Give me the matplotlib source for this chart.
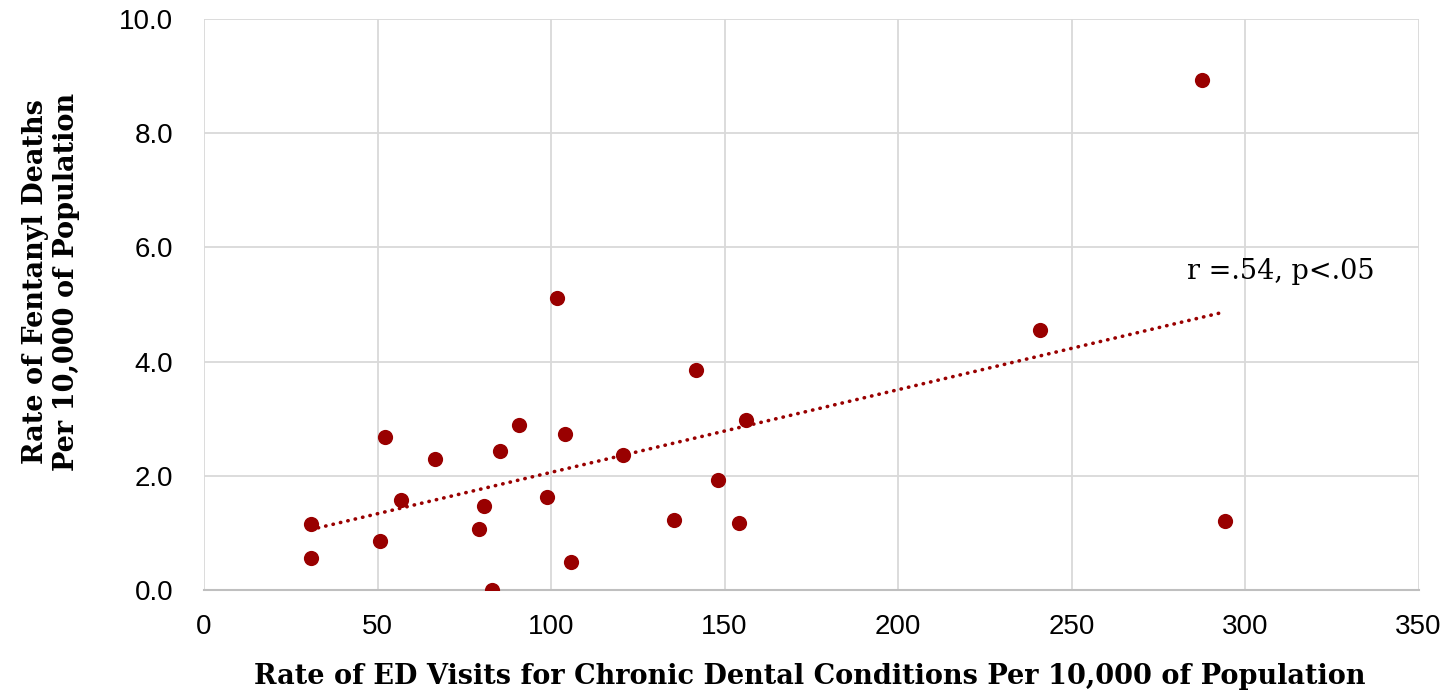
import matplotlib
matplotlib.use("Agg")
import matplotlib.pyplot as plt
import numpy as np

# ED visit rate for chronic dental conditions vs fentanyl death rate (per 10,000)
ed_visits = [30.8, 30.8, 50.7, 52.1, 56.8, 66.5, 79.2, 80.7, 83.0, 85.3, 90.8, 98.8,
             101.7, 104.0, 105.7, 120.7, 135.4, 141.7, 148.1, 154.1, 156.1, 240.8,
             287.5, 294.2]
fentanyl_deaths = [1.16, 0.56, 0.86, 2.68, 1.58, 2.29, 1.07, 1.47, 0.0, 2.43, 2.89, 1.63,
                   5.11, 2.73, 0.49, 2.36, 1.23, 3.85, 1.93, 1.17, 2.98, 4.55,
                   8.93, 1.21]
x_ticks = [0, 50, 100, 150, 200, 250, 300, 350]
y_ticks = [0, 2, 4, 6, 8, 10]
note = "r =.54, p<.05"

red = "#990000"
grid_col = "#d9d9d9"

fig = plt.figure(figsize=(14.49, 6.94), dpi=100)
ax = fig.add_axes([0.1408, 0.1499, 0.8382, 0.8227])

ax.scatter(ed_visits, fentanyl_deaths, s=120, color=red, zorder=3, linewidths=0)

# linear trendline (Excel style, dotted)
x = np.array(ed_visits)
slope, intercept = np.polyfit(x, np.array(fentanyl_deaths), 1)
xs = np.array([x.min(), x.max()])
ax.plot(xs, slope * xs + intercept, linestyle=(0, (0.1, 2.0)), dash_capstyle="round",
        color=red, linewidth=2.6, zorder=2)

ax.set_xlim(0, 350)
ax.set_ylim(0, 10)
ax.set_xticks(x_ticks)
ax.set_yticks(y_ticks)
ax.set_yticklabels([f"{v:.1f}" for v in y_ticks])
ax.grid(True, color=grid_col, linewidth=1.3, zorder=0)
ax.set_axisbelow(True)
for side in ["top", "right", "left"]:
    ax.spines[side].set_visible(False)
ax.spines["bottom"].set_color("#bfbfbf")
ax.spines["bottom"].set_linewidth(1.5)
ax.tick_params(length=0, labelsize=20)
ax.tick_params(axis="x", pad=17)
ax.tick_params(axis="y", pad=22)
for lab in ax.get_xticklabels() + ax.get_yticklabels():
    lab.set_fontfamily("Liberation Sans")

ax.set_xlabel("Rate of ED Visits for Chronic Dental Conditions Per 10,000 of Population",
              fontsize=19.5, fontweight="bold", family="DejaVu Serif", va="top")
ax.xaxis.set_label_coords(0.4988, -0.128)
ax.set_ylabel("Rate of Fentanyl Deaths\nPer 10,000 of Population",
              fontsize=19.5, fontweight="bold", family="DejaVu Serif")
ax.yaxis.set_label_coords(-0.102, 0.54)

ax.text(283.2, 5.45, note, fontsize=19.5, family="DejaVu Serif", ha="left", va="baseline")

fig.savefig("out.png", dpi=100)
